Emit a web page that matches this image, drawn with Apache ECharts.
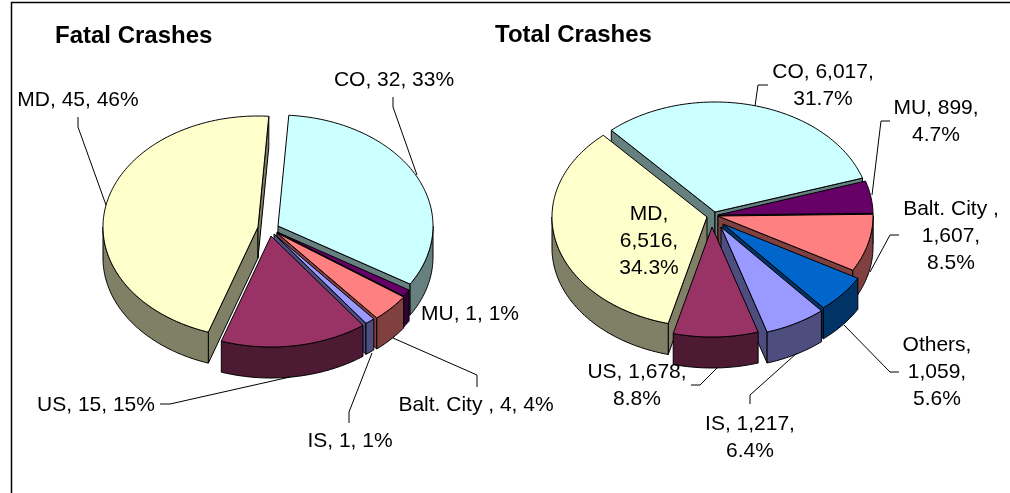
<!DOCTYPE html>
<html>
<head>
<meta charset="utf-8">
<script src="https://cdn.jsdelivr.net/npm/echarts@6/dist/echarts.min.js"></script>
<style>
html, body { margin: 0; padding: 0; background: #fff; }
#main { width: 1010px; height: 493px; }
</style>
</head>
<body>
<div id="main"></div>
<script>
// 数据
const fatalCategories = ['CO', 'MU', 'Balt. City ', 'IS', 'US', 'MD']
const fatalValues = [32, 1, 4, 1, 15, 45]
const fatalPercents = ['33', '1', '4', '1', '15', '46']

const totalCategories = ['CO', 'MU', 'Balt. City ', 'Others', 'IS', 'US', 'MD']
const totalValues = [6017, 899, 1607, 1059, 1217, 1678, 6516]
const totalPercents = ['31.7', '4.7', '8.5', '5.6', '6.4', '8.8', '34.3']

// 颜色：[顶面, 侧面]
const sliceColors = {
  'CO': ['#CCFFFF', '#668080'],
  'MU': ['#660066', '#330033'],
  'Balt. City ': ['#FF8080', '#804040'],
  'Others': ['#0066CC', '#003366'],
  'IS': ['#9999FF', '#4D4D80'],
  'US': ['#993366', '#4D1A33'],
  'MD': ['#FFFFCC', '#808066']
}

const FONT = '21px "Liberation Sans", Arial, sans-serif'
const TITLE_FONT = 'bold 24px "Liberation Sans", Arial, sans-serif'

// 版式
const fatalLayout = {
  center: [276, 231], rx: 155, ry: 111, depth: 31, startAngle: 4,
  // 每块扇形的爆炸偏移
  explode: [[2, -5], [1, 1], [1, 2], [-2, 3], [-5, 5], [-18, -4]],
  labels: [[394, 80], [470, 314], [476, 405], [350, 441], [96, 405], [78, 100]],
  threeLine: [],
  leaders: [
    [[393, 97], [393, 107], [417, 175]],
    [[477, 387], [477, 375], [393, 338]],
    [[349, 423], [349, 412], [372, 353]],
    [[160, 404], [170, 404], [290, 377]],
    [[78, 117], [78, 127], [106, 205]]
  ]
}
const totalLayout = {
  center: [716, 220], rx: 155, ry: 110, depth: 31, startAngle: 318,
  explode: [[-1, -8], [2, -5], [2, -4], [7, 4], [5, 7], [-4, 7], [-9, -3]],
  labels: [[823, 86], [936, 122], [951, 236], [937, 372], [750, 438], [637, 386], [649, 241]],
  threeLine: ['Balt. City ', 'Others', 'MD'],
  leaders: [
    [[768, 85], [758, 85], [755, 106]],
    [[890, 121], [881, 121], [872, 195]],
    [[899, 235], [890, 235], [870, 272]],
    [[899, 372], [890, 372], [844, 325]],
    [[750, 404], [750, 395], [797, 353]],
    [[691, 385], [700, 385], [717, 368]]
  ]
}

function formatValue (v) {
  return String(v).replace(/\B(?=(\d{3})+$)/g, ',')
}

function labelText (cat, value, pct, threeLine) {
  const name = cat + ','
  if (threeLine === true) {
    return name + '\n' + formatValue(value) + ',\n' + pct + '%'
  }
  if (pct.indexOf('.') >= 0) {
    return name + ' ' + formatValue(value) + ',\n' + pct + '%'
  }
  return name + ' ' + formatValue(value) + ', ' + pct + '%'
}

function rimPoint (apex, lay, deg, drop) {
  const a = deg * Math.PI / 180
  return [apex[0] + lay.rx * Math.sin(a), apex[1] - lay.ry * Math.cos(a) + drop]
}

function arcPoints (apex, lay, from, to, drop) {
  const pts = []
  const n = Math.max(1, Math.ceil(Math.abs(to - from)))
  for (let i = 0; i <= n; i++) {
    pts.push(rimPoint(apex, lay, from + (to - from) * i / n, drop))
  }
  return pts
}

// 一张伪三维饼图：自定义系列，扇形角度由数值算出
function pieSeries (categories, values, lay) {
  const total = values.reduce((a, b) => a + b, 0)
  let angle = lay.startAngle
  const rows = values.map((v, i) => {
    const from = angle
    angle += v / total * 360
    return [v, from, angle, i]
  })
  // 从后往前画
  rows.sort((p, q) => {
    const mid = r => (r[1] + r[2]) / 2 * Math.PI / 180
    return -Math.cos(mid(p)) - -Math.cos(mid(q))
  })
  return {
    type: 'custom',
    coordinateSystem: 'none',
    silent: true,
    animation: false,
    data: rows,
    renderItem: function (params, api) {
      const from = api.value(1)
      const to = api.value(2)
      const i = api.value(3)
      const colors = sliceColors[categories[i]]
      const off = lay.explode[i]
      const apex = [lay.center[0] + off[0], lay.center[1] + off[1]]
      const d = lay.depth
      const edge = { stroke: '#000', lineWidth: 1, lineJoin: 'round' }
      const children = []
      const wall = pts => children.push({
        type: 'polygon',
        shape: { points: pts },
        style: Object.assign({ fill: colors[1] }, edge)
      })
      const cutFace = deg => {
        const r = rimPoint(apex, lay, deg, 0)
        wall([apex, r, [r[0], r[1] + d], [apex[0], apex[1] + d]])
      }
      if (Math.sin(from * Math.PI / 180) < 0) cutFace(from)
      if (Math.sin(to * Math.PI / 180) > 0) cutFace(to)
      // 外弧侧面，只有朝前的部分
      ;[[90, 270], [450, 630]].forEach(range => {
        const a = Math.max(from, range[0])
        const b = Math.min(to, range[1])
        if (b > a) {
          wall(arcPoints(apex, lay, a, b, 0).concat(arcPoints(apex, lay, b, a, d)))
        }
      })
      children.push({
        type: 'polygon',
        shape: { points: [apex].concat(arcPoints(apex, lay, from, to, 0)) },
        style: Object.assign({ fill: colors[0] }, edge)
      })
      return { type: 'group', children: children }
    }
  }
}

function pieGraphics (categories, values, percents, lay) {
  const out = []
  lay.leaders.forEach(pts => {
    out.push({
      type: 'polyline',
      z: 5,
      silent: true,
      shape: { points: pts },
      style: { stroke: '#000', lineWidth: 1, fill: null }
    })
  })
  categories.forEach((cat, i) => {
    out.push({
      type: 'text',
      z: 6,
      silent: true,
      x: lay.labels[i][0],
      y: lay.labels[i][1],
      style: {
        text: labelText(cat, values[i], percents[i], lay.threeLine.indexOf(cat) >= 0),
        font: FONT,
        fill: '#000',
        align: 'center',
        verticalAlign: 'middle',
        lineHeight: 27
      }
    })
  })
  return out
}

const chart = echarts.init(document.getElementById('main'), null, { renderer: 'canvas' })
const option = {
  backgroundColor: '#fff',
  animation: false,
  graphic: [
    { type: 'polyline', z: 1, silent: true, shape: { points: [[11.5, 493], [11.5, 2.5], [1010, 2.5]] }, style: { stroke: '#000', lineWidth: 1.5, fill: null } },
    { type: 'text', z: 6, silent: true, x: 55, y: 36, style: { text: 'Fatal Crashes', font: TITLE_FONT, fill: '#000', verticalAlign: 'middle' } },
    { type: 'text', z: 6, silent: true, x: 495, y: 35, style: { text: 'Total Crashes', font: TITLE_FONT, fill: '#000', verticalAlign: 'middle' } }
  ].concat(
    pieGraphics(fatalCategories, fatalValues, fatalPercents, fatalLayout),
    pieGraphics(totalCategories, totalValues, totalPercents, totalLayout)
  ),
  series: [
    pieSeries(fatalCategories, fatalValues, fatalLayout),
    pieSeries(totalCategories, totalValues, totalLayout)
  ]
}
chart.setOption(option)
</script>
</body>
</html>
